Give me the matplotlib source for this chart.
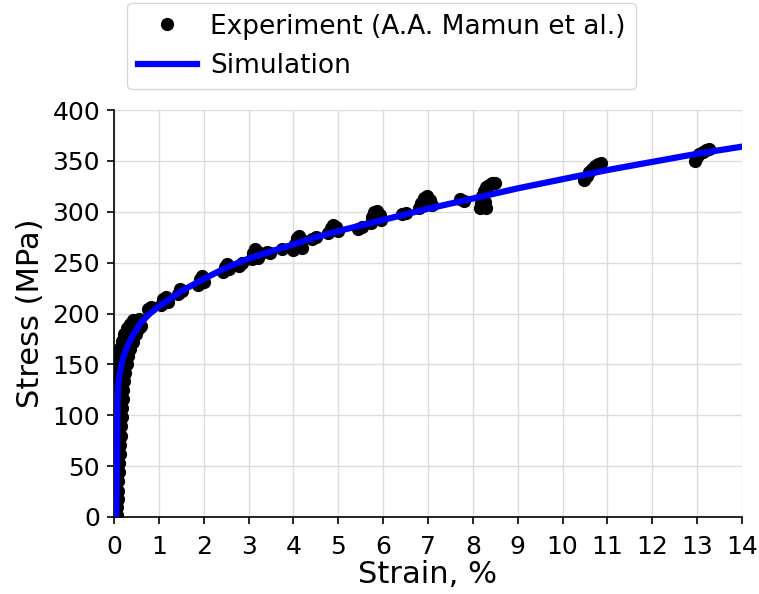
import matplotlib
matplotlib.use("Agg")
import matplotlib.pyplot as plt

# Experimental tensile data (strain in %, stress in MPa)
exp_strain = [
    # elastic rise and knee
    0.06, 0.07, 0.08, 0.09, 0.10, 0.11, 0.12, 0.13, 0.14, 0.15, 0.16, 0.17,
    0.18, 0.19, 0.20, 0.22, 0.25, 0.28, 0.32, 0.36, 0.42, 0.48, 0.55,
    0.05, 0.06, 0.08, 0.10, 0.13, 0.17, 0.22, 0.28, 0.35, 0.42,
    # plastic region clusters
    0.45, 0.50, 0.55, 0.60,
    0.75, 0.82,
    1.05, 1.10, 1.15, 1.20,
    1.42, 1.47, 1.52,
    1.88, 1.92, 1.97, 2.00,
    2.42, 2.47, 2.52, 2.57,
    2.78, 2.85,
    3.07, 3.10, 3.15, 3.20, 3.22,
    3.42, 3.48,
    3.75,
    4.00, 4.03, 4.08, 4.13, 4.18, 4.20,
    4.42, 4.50,
    4.78, 4.83, 4.88, 4.95, 5.00,
    5.45, 5.52,
    5.72, 5.76, 5.80, 5.86, 5.92, 5.95,
    6.42, 6.50,
    6.80, 6.84, 6.90, 6.97, 7.05, 7.10,
    7.72, 7.80,
    8.15, 8.18, 8.20, 8.24, 8.30, 8.36, 8.42, 8.50, 8.30, 8.28,
    10.48, 10.55, 10.60, 10.66, 10.72, 10.80, 10.85,
    12.95, 13.00, 13.05, 13.12, 13.20, 13.27,
]
exp_stress = [
    2, 10, 18, 26, 35, 44, 53, 62, 71, 80, 89, 98,
    107, 116, 125, 134, 142, 150, 158, 165, 172, 180, 186,
    130, 140, 150, 158, 166, 173, 180, 186, 190, 194,
    186, 192, 195, 188,
    204, 206,
    208, 214, 216, 211,
    219, 224, 222,
    228, 234, 237, 231,
    241, 246, 249, 244,
    247, 250,
    254, 259, 263, 260, 255,
    260, 259,
    263,
    262, 268, 274, 276, 272, 264,
    273, 275,
    279, 284, 287, 285, 281,
    283, 285,
    289, 295, 300, 301, 297, 292,
    298, 299,
    304, 309, 314, 315, 312, 307,
    313, 311,
    304, 309, 315, 320, 324, 326, 328, 328, 304, 310,
    331, 335, 339, 342, 345, 347, 348,
    350, 354, 357, 359, 361, 362,
]

# Simulated stress-strain response
sim_strain = [0.05, 0.07, 0.08, 0.09, 0.12, 0.20, 0.30, 0.40, 0.60, 0.80,
              1.0, 1.5, 2.0, 2.5, 3.0, 3.5, 4.0, 4.5, 5.0, 6.0, 7.0, 8.0,
              9.0, 10.0, 11.0, 12.0, 13.0, 14.0]
sim_stress = [0, 70, 115, 128, 140, 156, 168, 177, 191, 200,
              207, 222, 234, 245, 254, 261, 268, 275, 281, 292, 303, 313,
              323, 332, 341, 349, 357, 364]

x_ticks = list(range(0, 15))
y_ticks = list(range(0, 401, 50))

fig = plt.figure(figsize=(7.59, 5.94), dpi=100)
ax = fig.add_axes([114 / 759, 1 - 517 / 594, (742 - 114) / 759, (517 - 110) / 594])

ax.plot(exp_strain, exp_stress, 'o', color='black', markersize=8.5,
        linestyle='none', label='Experiment (A.A. Mamun et al.)', zorder=2)
ax.plot(sim_strain, sim_stress, '-', color='#0000ff', linewidth=4.5,
        label='Simulation', zorder=3)

ax.set_xlim(0, 14)
ax.set_ylim(0, 400)
ax.set_xticks(x_ticks)
ax.set_yticks(y_ticks)
ax.tick_params(axis='both', labelsize=18, direction='out', length=5, width=1.2)
ax.tick_params(axis='x', pad=8)
ax.tick_params(axis='y', pad=5)
ax.set_xlabel('Strain, %', fontsize=22, labelpad=1)
ax.set_ylabel('Stress (MPa)', fontsize=22, labelpad=5)

ax.grid(True, color='#dcdcdc', linewidth=1.0)
ax.set_axisbelow(True)
for side in ('top', 'right'):
    ax.spines[side].set_visible(False)
for side in ('left', 'bottom'):
    ax.spines[side].set_linewidth(1.2)

handles, labels = ax.get_legend_handles_labels()
fig.legend(handles, labels, loc='upper left',
           bbox_to_anchor=(127 / 759, 1 - 3 / 594), borderaxespad=0,
           fontsize=19, handlelength=2.25, handletextpad=0.5)

fig.savefig('out.png', dpi=100)
